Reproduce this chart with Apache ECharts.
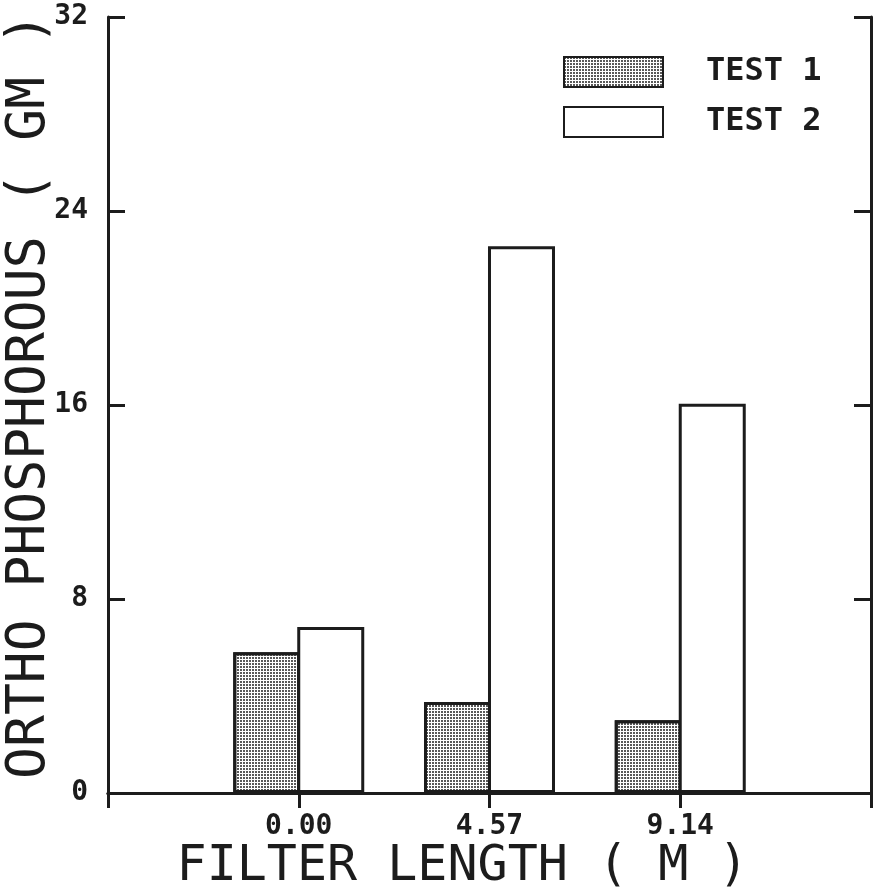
<!DOCTYPE html>
<html>
<head>
<meta charset="utf-8">
<script src="https://cdn.jsdelivr.net/npm/echarts@6/dist/echarts.min.js"></script>
<style>
html,body{margin:0;padding:0;background:#fff;}
#chart{width:877px;height:891px;}
</style>
</head>
<body>
<div id="chart"></div>
<script>
// Data
const categories = ['0.00', '4.57', '9.14'];
const test1 = [5.8, 3.75, 3.0];
const test2 = [6.85, 22.55, 16.05];
const yTicks = [0, 8, 16, 24, 32];
const seriesNames = ['TEST 1', 'TEST 2'];

const axisCats = [''].concat(categories, ['']);
const pad = arr => [null].concat(arr, [null]);

const INK = '#1c1c1c';
const mono = "'DejaVu Sans Mono', 'Liberation Mono', monospace";

const chart = echarts.init(document.getElementById('chart'), null, {renderer: 'canvas'});

const catAxisBase = {
  type: 'category',
  data: axisCats,
  boundaryGap: false,
  axisLine: {show: true, lineStyle: {color: INK, width: 3}},
  axisTick: {show: true, inside: true, length: 15, interval: 0, lineStyle: {color: INK, width: 3}},
  splitLine: {show: false}
};
const valAxisBase = {
  type: 'value',
  min: yTicks[0],
  max: yTicks[yTicks.length - 1],
  interval: yTicks[1] - yTicks[0],
  axisLine: {show: true, lineStyle: {color: INK, width: 3}},
  axisTick: {show: true, inside: true, length: 17, lineStyle: {color: INK, width: 3}},
  splitLine: {show: false}
};

const decal1 = {symbol: 'circle', symbolSize: 1, dashArrayX: [2, 1], dashArrayY: [2, 1], color: '#222222'};

chart.setOption({
  animation: false,
  backgroundColor: '#fff',
  grid: {left: 108, top: 17, right: 6, bottom: 98, containLabel: false, outerBoundsMode: 'none'},
  legend: {
    orient: 'vertical',
    left: 558,
    top: 51,
    itemWidth: 99,
    itemHeight: 30,
    itemGap: 18,
    icon: 'rect',
    selectedMode: false,
    data: seriesNames,
    textStyle: {fontFamily: mono, fontSize: 32, fontWeight: 'bold', color: INK, padding: [0, 0, 0, 38]}
  },
  xAxis: [
    Object.assign({}, catAxisBase, {
      position: 'bottom',
      name: 'FILTER LENGTH ( M )',
      nameLocation: 'middle',
      nameGap: 49,
      nameMoveOverlap: false,
      nameTextStyle: {fontFamily: mono, fontSize: 50, color: INK, padding: [0, 54, 0, 0]},
      axisLabel: {show: true, interval: 0, margin: 20, fontFamily: mono, fontSize: 28, fontWeight: 'bold', color: INK}
    }),
    Object.assign({}, catAxisBase, {position: 'top', axisLabel: {show: false}})
  ],
  yAxis: [
    Object.assign({}, valAxisBase, {
      position: 'left',
      name: 'ORTHO PHOSPHOROUS ( GM )',
      nameLocation: 'middle',
      nameGap: 51,
      nameMoveOverlap: false,
      nameTextStyle: {fontFamily: mono, fontSize: 53, color: INK, padding: [0, 0, 0, 18]},
      axisLabel: {show: true, margin: 20, fontFamily: mono, fontSize: 28, fontWeight: 'bold', color: INK}
    }),
    Object.assign({}, valAxisBase, {position: 'right', axisLabel: {show: false}})
  ],
  series: [
    {
      name: seriesNames[0],
      type: 'bar',
      xAxisIndex: 0,
      yAxisIndex: 0,
      barWidth: 67,
      barGap: '-4.5%',
      data: pad(test1),
      itemStyle: {color: '#ffffff', borderColor: INK, borderWidth: 3, decal: decal1}
    },
    {
      name: seriesNames[1],
      type: 'bar',
      xAxisIndex: 0,
      yAxisIndex: 0,
      barWidth: 67,
      barGap: '-4.5%',
      data: pad(test2),
      itemStyle: {color: '#ffffff', borderColor: INK, borderWidth: 3}
    }
  ]
});
</script>
</body>
</html>
